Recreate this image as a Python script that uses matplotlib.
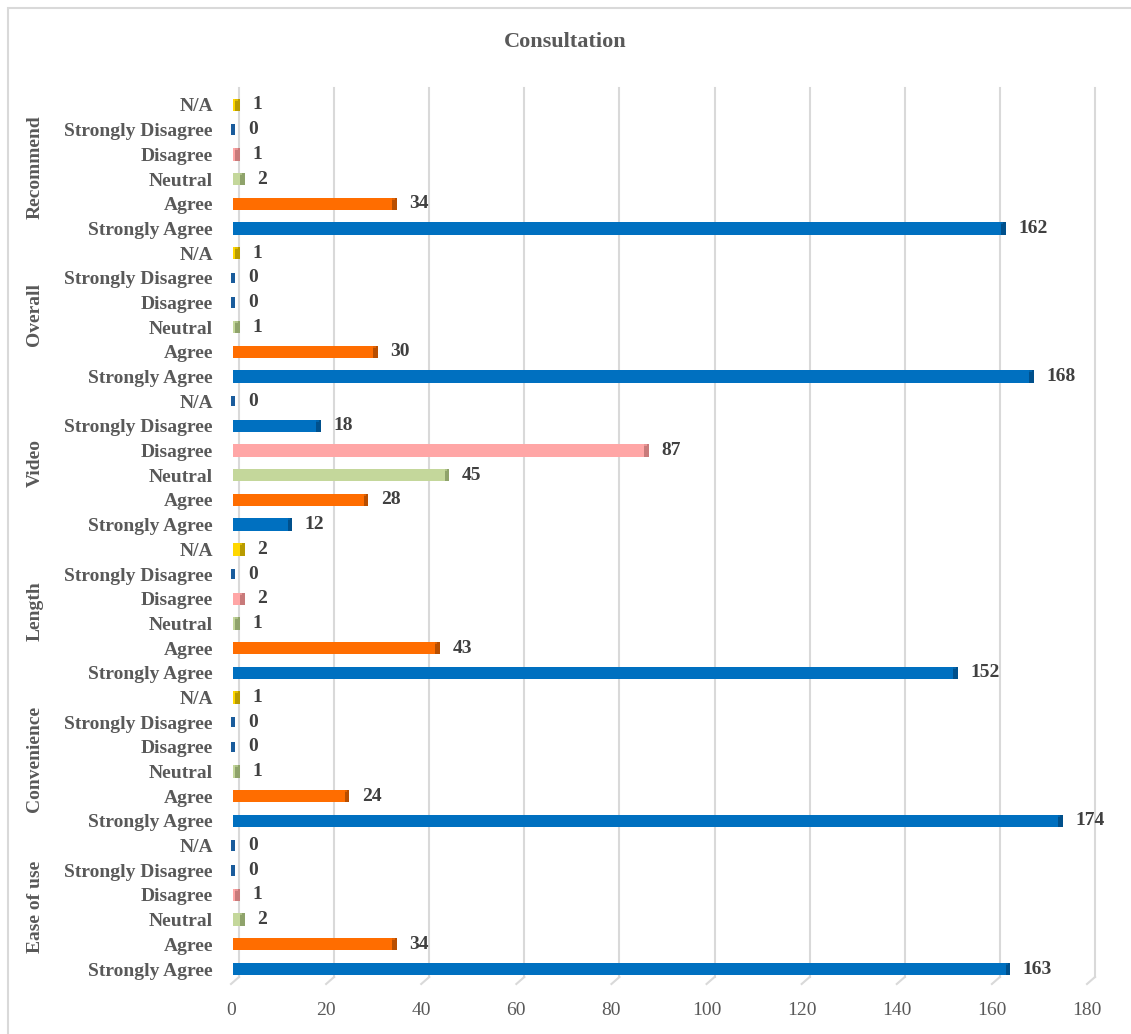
import matplotlib
matplotlib.use("Agg")
import matplotlib.pyplot as plt
from matplotlib.patches import Rectangle
from matplotlib.lines import Line2D
import matplotlib.transforms as mtransforms

# ---- data ----
groups = ["Ease of use", "Convenience", "Length", "Video", "Overall", "Recommend"]
categories = ["Strongly Agree", "Agree", "Neutral", "Disagree", "Strongly Disagree", "N/A"]
ease_of_use = [163, 34, 2, 1, 0, 0]
convenience = [174, 24, 1, 0, 0, 1]
length = [152, 43, 1, 2, 0, 2]
video = [12, 28, 45, 87, 18, 0]
overall = [168, 30, 1, 0, 0, 1]
recommend = [162, 34, 2, 1, 0, 1]
series = [ease_of_use, convenience, length, video, overall, recommend]
xticks = [0, 20, 40, 60, 80, 100, 120, 140, 160, 180]
title = "Consultation"

face = ["#0070C0", "#FF6D00", "#C4D79B", "#FFA6A6", "#0070C0", "#FFD700"]
side = ["#00508C", "#B84E00", "#8FA36B", "#C87A7A", "#00508C", "#B89B00"]
zero_col = "#1A5C9C"

W, H = 1131, 1034
fig = plt.figure(figsize=(W / 100, H / 100), dpi=100)
plt.rcParams["font.family"] = ["Liberation Serif", "DejaVu Serif"]

# outer frame (left & top visible)
fig.add_artist(Rectangle((8 / W, -0.1), 1.2, 1 - 8 / H + 0.1, transform=fig.transFigure,
                         fill=False, edgecolor="#D9D9D9", linewidth=1.5))

left_px, right_px = 231, 1087
top_px, bot_px = 88, 984
ax = fig.add_axes([left_px / W, 1 - bot_px / H, (right_px - left_px) / W, (bot_px - top_px) / H])

n = len(categories) * len(groups)
row_px = (969 - 105) / (n - 1)
ylo = -(bot_px - 969) / row_px
yhi = (n - 1) + (105 - top_px) / row_px
ax.set_xlim(0, 180)
ax.set_ylim(ylo, yhi)

ux = (right_px - left_px) / 180.0  # px per unit
back_dx = 8 / ux
back_dy = 7 / row_px

# gridlines with 3D floor diagonal
for t in xticks:
    ax.add_line(Line2D([t + back_dx, t + back_dx], [ylo + back_dy, yhi], color="#D9D9D9",
                       linewidth=1.5, clip_on=False, zorder=0))
    ax.add_line(Line2D([t + back_dx, t], [ylo + back_dy, ylo], color="#D9D9D9",
                       linewidth=1.5, clip_on=False, zorder=0))

bh = 0.5
cap = 1.0
ylabels = []
ypos = []
i = 0
for g, vals in zip(groups, series):
    for c, (cat, v) in enumerate(zip(categories, vals)):
        y = i
        ypos.append(y)
        ylabels.append(cat)
        if v > 0:
            ax.barh(y, v, height=bh, left=0.4, color=face[c], zorder=2, linewidth=0)
            ax.barh(y, cap, height=bh, left=v + 0.4 - cap * 0.5, color=side[c], zorder=3, linewidth=0)
            ax.barh(y + bh * 0.42, v, height=bh * 0.16, left=0.4, color=face[c], alpha=0.6, zorder=3, linewidth=0)
        else:
            ax.barh(y, 0.7, height=bh * 0.85, left=0.1, color=zero_col, zorder=3, linewidth=0)
        ax.annotate(str(v), xy=(v + 0.9, y), xytext=(9, 0), textcoords="offset points",
                    ha="left", va="center", fontsize=14, fontweight="bold", color="#404040",
                    annotation_clip=False)
        i += 1

ax.set_yticks(ypos)
ax.set_yticklabels(ylabels, fontsize=14, fontweight="bold", color="#595959")
ax.tick_params(axis="y", length=0, pad=13)
ax.set_xticks(xticks)
ax.set_xticklabels([str(t) for t in xticks], fontsize=14, color="#595959")
ax.tick_params(axis="x", length=0, pad=13)
for s in ax.spines.values():
    s.set_visible(False)
ax.set_facecolor("none")

# group labels
trans = mtransforms.blended_transform_factory(ax.transAxes, ax.transData)
gx = (35 - left_px) / (right_px - left_px)
for k, g in enumerate(groups):
    yc = k * len(categories) + (len(categories) - 1) / 2.0
    ax.text(gx, yc, g, transform=trans, rotation=90, ha="center", va="center",
            fontsize=14, fontweight="bold", color="#595959")

fig.text(565 / W, 1 - 42 / H, title, ha="center", va="center", fontsize=16,
         fontweight="bold", color="#595959")

fig.savefig("out.png", dpi=100, facecolor="white")
